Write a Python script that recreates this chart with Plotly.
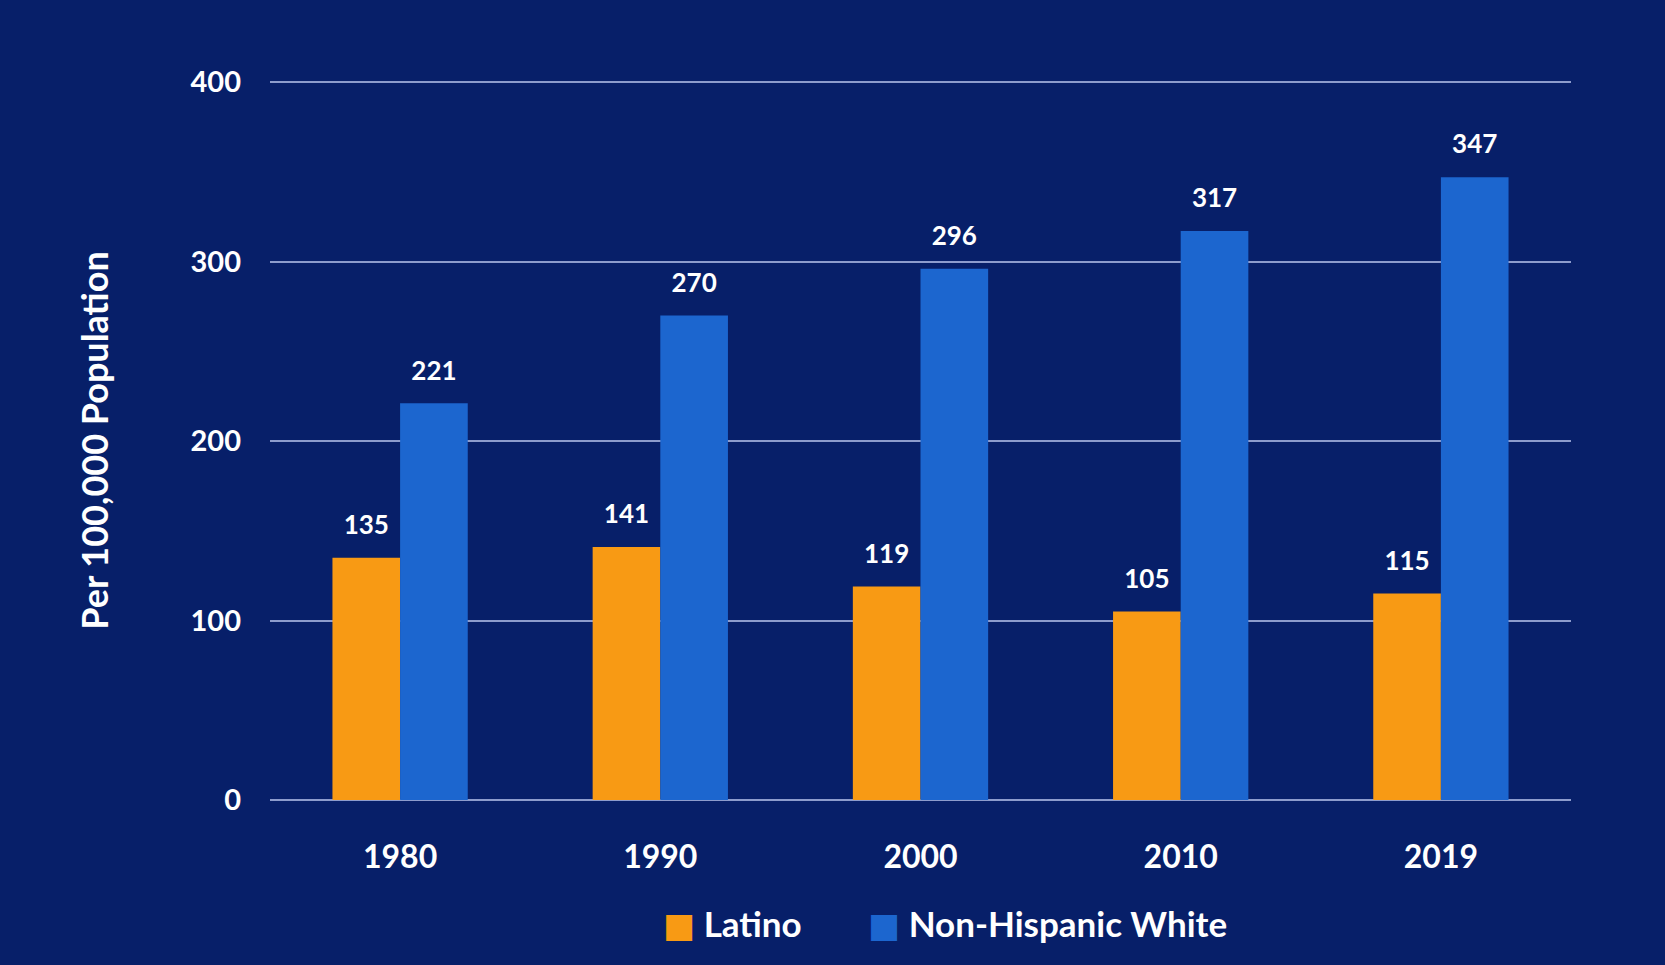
import plotly.graph_objects as go

years = ["1980", "1990", "2000", "2010", "2019"]
latino = [135, 141, 119, 105, 115]
nh_white = [221, 270, 296, 317, 347]
series_names = ["Latino", "Non-Hispanic White"]
y_ticks = [0, 100, 200, 300, 400]

BG = "#071f69"
ORANGE = "#f89a14"
BLUE = "#1c66cf"
GRID = "#8d9ccd"
FONT = "Lato"

fig = go.Figure()
legends = ["legend", "legend2"]
for name, vals, col, lg in [(series_names[0], latino, ORANGE, legends[0]),
                            (series_names[1], nh_white, BLUE, legends[1])]:
    fig.add_trace(go.Bar(
        x=years, y=vals, name=name, marker=dict(color=col, line=dict(width=0)),
        showlegend=False, offsetgroup=name,
    ))
    fig.add_trace(go.Scatter(
        x=years, y=vals, mode="markers+text", text=[str(v) for v in vals],
        textposition="top center", offsetgroup=name,
        textfont=dict(family=FONT, size=26, color="white", weight="bold"),
        marker=dict(size=26, opacity=0), showlegend=False, hoverinfo="skip",
        cliponaxis=False,
    ))
    fig.add_trace(go.Scatter(
        x=[None], y=[None], mode="markers", legend=lg,
        name=f"<span style='color:{col};font-family:DejaVu Sans;font-size:34px'>\u25A0</span> {name}",
        marker=dict(symbol="square", size=2, color="rgba(0,0,0,0)"), showlegend=True,
    ))

legend_common = dict(
    orientation="h", yanchor="middle", y=-0.172, xanchor="left",
    font=dict(family=FONT, size=35, color="white", weight="bold"),
    bgcolor="rgba(0,0,0,0)", itemwidth=30,
)

fig.update_layout(
    width=1665, height=965,
    paper_bgcolor=BG, plot_bgcolor=BG,
    margin=dict(l=270, r=94, t=81, b=165),
    barmode="group", bargap=0.48, bargroupgap=0,
    scattermode="group", scattergap=0.48,
    font=dict(family=FONT, color="white", weight="bold"),
    showlegend=True,
    legend=dict(x=(623 - 270) / 1301, **legend_common),
    legend2=dict(x=(828 - 270) / 1301, **legend_common),
)
fig.update_xaxes(
    type="category", showgrid=False, showline=False, zeroline=False,
    ticks="", tickfont=dict(family=FONT, size=32, color="white", weight="bold"),
    ticklabelstandoff=35,
)
fig.update_yaxes(
    range=[0, 400.6], tickvals=y_ticks, showgrid=True, gridcolor=GRID, gridwidth=2,
    zeroline=True, zerolinecolor=GRID, zerolinewidth=2, showline=False,
    ticks="", ticklabelstandoff=28,
    tickfont=dict(family=FONT, size=29, color="white", weight="bold"),
    title=dict(text="Per 100,000 Population", standoff=70,
               font=dict(family=FONT, size=36, color="white", weight="bold")),
)

fig.write_html(
    "out.html",
    config={"displayModeBar": False},
    post_script="document.body.style.margin='0';document.body.style.overflow='hidden';"
                "document.body.style.background='%s';" % BG,
)
